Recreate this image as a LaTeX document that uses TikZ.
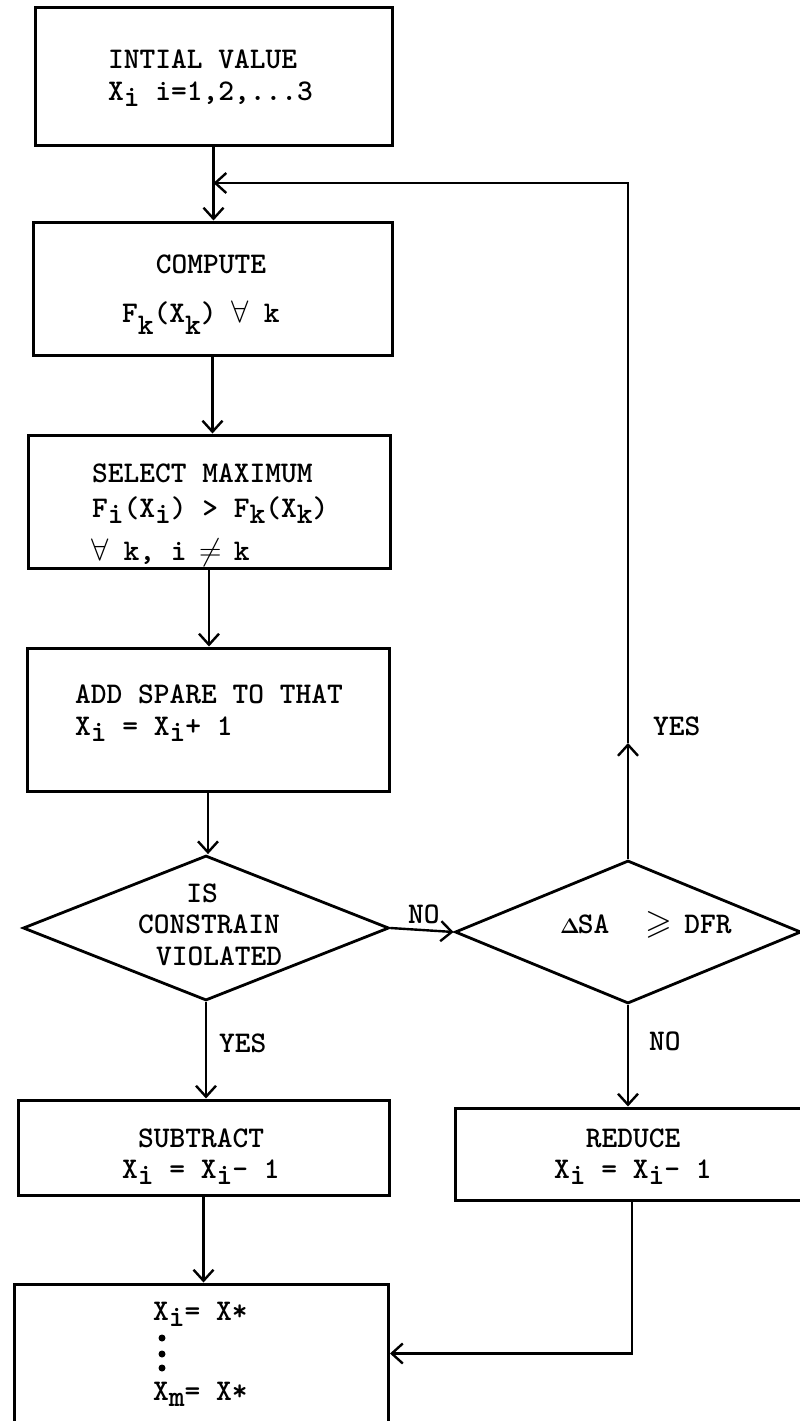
\documentclass[tikz,border=0pt]{standalone}
\usepackage{amssymb}
\usetikzlibrary{shapes.geometric,arrows.meta}
\newcommand\lo[2][0.2em]{\raisebox{-#1}{#2}}
\newcommand\mc[1]{\makebox[0.525em]{#1}}
\begin{document}
\begin{tikzpicture}[x=1pt,y=-1pt,
  box/.style={draw, line width=3pt, rectangle, inner sep=0pt},
  dia/.style={draw, diamond, line width=2.8pt, inner sep=0pt},
  txt/.style={font=\fontsize{30}{36}\selectfont\ttfamily\bfseries, inner sep=0pt, anchor=base west},
  txtc/.style={txt, anchor=base},
  arr/.style={line width=2.4pt, -{Straight Barb[length=11pt,width=20pt]}}]
\useasboundingbox (0,0) rectangle (800,1421);
% boxes
\node[box, minimum width=357pt, minimum height=137pt] (b1) at (213.5,76.5) {};
\node[box, minimum width=359pt, minimum height=133pt] (b2) at (212.5,288.5) {};
\node[box, minimum width=362pt, minimum height=133pt] (b3) at (209,501.5) {};
\node[box, minimum width=362pt, minimum height=143pt] (b4) at (208,719.5) {};
\node[dia, minimum width=366pt, minimum height=145pt] (d1) at (206,928) {};
\node[dia, minimum width=346pt, minimum height=143pt] (d2) at (628,932) {};
\node[box, minimum width=371pt, minimum height=95pt] (bs) at (203.5,1147.5) {};
\node[box, minimum width=354pt, minimum height=92pt] (br) at (632,1154) {};
\node[box, minimum width=374pt, minimum height=139pt] (b5) at (201.5,1353.5) {};
% texts
\node[txt] (t1a) at (108,68) {INTIAL VALUE};
\node[txt] (t1b) at (108,100) {X\lo{i} i=1,2,...3};
\node[txtc] (t2a) at (211,273) {COMPUTE};
\node[txt] (t2b) at (122,322) {F\lo[0.4em]{k}(X\lo[0.4em]{k}) \mc{\scalebox{1.25}{$\forall$}} k};
\node[txt] (t3a) at (92,482) {SELECT MAXIMUM};
\node[txt] (t3b) at (92,517) {F\lo{i}(X\lo{i}) > F\lo{k}(X\lo{k})};
\node[txt] (t3c) at (92,560) {\mc{\scalebox{1.25}{$\forall$}} k, i \mc{\scalebox{1.25}{$\neq$}} k};
\node[txt] (t4a) at (75,703) {ADD SPARE TO THAT};
\node[txt] (t4b) at (75,735) {X\lo{i} = X\lo{i}+ 1};
\node[txtc] (t5a) at (202,902) {IS};
\node[txtc] (t5b) at (209,933) {CONSTRAIN};
\node[txtc] (t5c) at (219,965) {VIOLATED};
\node[txt] (t6) at (562,933) {\mc{\scalebox{0.85}{$\mathbf{\Delta}$}}SA\hspace{36pt}\scalebox{1.15}{$\geqslant$}\hspace{12pt}DFR};
\node[txtc] (t7a) at (201,1147) {SUBTRACT};
\node[txt] (t7b) at (122,1178) {X\lo{i} = X\lo{i}- 1};
\node[txtc] (t8a) at (633,1147) {REDUCE};
\node[txt] (t8b) at (554,1178) {X\lo{i} = X\lo{i}- 1};
\node[txt] (t9a) at (153,1320) {X\lo{i}= X*};
\node[txt] (t9b) at (153,1400) {X\lo{m}= X*};
\fill (162,1338) circle (3.5) (162,1354) circle (3.5) (162,1368) circle (3.5);
% labels
\node[txt] (lno1) at (408,923) {NO};
\node[txt] (lyes1) at (653,735) {YES};
\node[txt] (lyes2) at (219,1052) {YES};
\node[txt] (lno2) at (649,1050) {NO};
% connectors
\coordinate (j) at (213.5,183);
\coordinate (ym) at (0,743);
\draw[arr] (b1.south) -- (b1.south |- b2.north);
\draw[arr] (b2.south) -- (b2.south |- b3.north);
\draw[arr] (b3.south) -- (b3.south |- b4.north);
\draw[arr] (b4.south) -- (b4.south |- d1.north);
\draw[arr] (d1.east) -- (d2.west);
\draw[arr] (d2.north) -- (d2.north |- ym);
\draw[arr] (d2.north |- ym) |- (j);
\draw[arr] (d1.south) -- (d1.south |- bs.north);
\draw[arr] (d2.south) -- (d2.south |- br.north);
\draw[arr] (bs.south) -- (bs.south |- b5.north);
\draw[arr] (br.south) |- (b5.east);
\end{tikzpicture}
\end{document}
